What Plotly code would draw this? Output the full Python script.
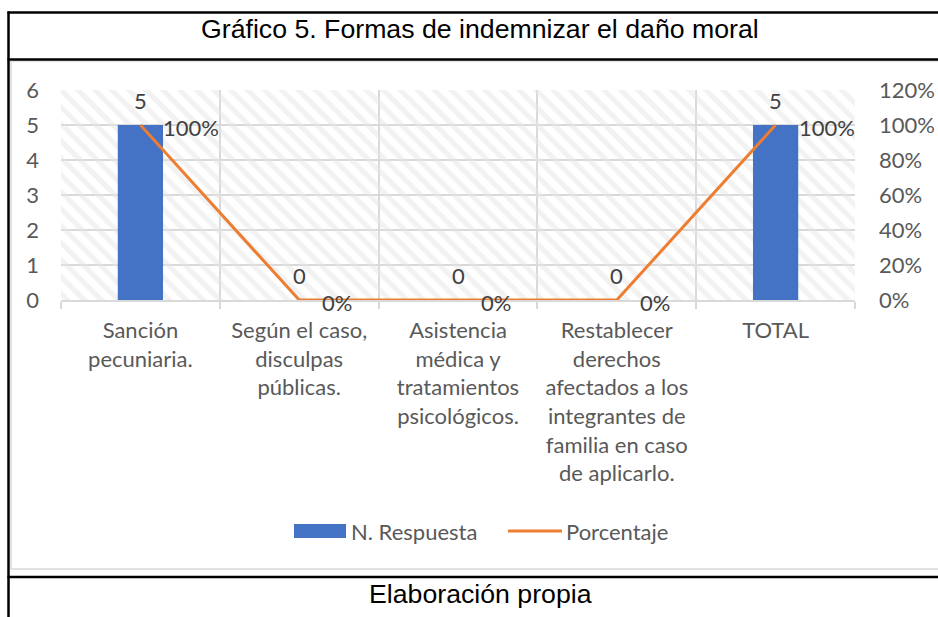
import plotly.graph_objects as go

# ---- data ----
categories = [
    "Sanción<br>pecuniaria.",
    "Según el caso,<br>disculpas<br>públicas.",
    "Asistencia<br>médica y<br>tratamientos<br>psicológicos.",
    "Restablecer<br>derechos<br>afectados a los<br>integrantes de<br>familia en caso<br>de aplicarlo.",
    "TOTAL",
]
respuestas = [5, 0, 0, 0, 5]
porcentaje = [1.0, 0.0, 0.0, 0.0, 1.0]
series_names = ["N. Respuesta", "Porcentaje"]
title_text = "Gráfico 5. Formas de indemnizar el daño moral"
footer_text = "Elaboración propia"

# ---- geometry (pixels) ----
FW, FH = 938, 617
L, R, T, B = 61, 855, 90, 300
W, H = R - L, B - T


def px(x):
    return (x - L) / W


def py(y):
    return (B - y) / H


FONT = "Lato"
FS = 22
GRAY = "#595959"
GRID = "#d9d9d9"
BLUE = "#4472C4"
ORANGE = "#ED7D31"

fig = go.Figure()

# background hatch (decorative plot-area fill)
fig.add_trace(go.Bar(
    x=[0.5], y=[1], width=[1], base=[0],
    xaxis="x", yaxis="y",
    marker=dict(color="rgba(0,0,0,0)", line=dict(width=0),
                pattern=dict(shape="\\", fgcolor="#e6e6e6", bgcolor="rgba(0,0,0,0)",
                             size=12, solidity=0.45, fillmode="overlay")),
    hoverinfo="skip", showlegend=False,
))

fig.add_trace(go.Bar(
    x=categories, y=respuestas, name=series_names[0],
    xaxis="x2", yaxis="y2", width=0.285,
    marker=dict(color=BLUE, line=dict(width=0)),
    showlegend=False,
))
fig.add_trace(go.Scatter(
    x=categories, y=porcentaje, name=series_names[1],
    xaxis="x2", yaxis="y3", mode="lines",
    line=dict(color=ORANGE, width=3),
    showlegend=False,
))

annotations = []
for c, v in zip(categories, respuestas):
    annotations.append(dict(x=c, y=v, xref="x2", yref="y2", text=str(v),
                            showarrow=False, yanchor="middle", yshift=25,
                            font=dict(family=FONT, size=FS, color="#404040")))
for c, v in zip(categories, porcentaje):
    annotations.append(dict(x=c, y=v, xref="x2", yref="y3", text=f"{v:.0%}",
                            showarrow=False, xanchor="left", yanchor="middle",
                            xshift=21, yshift=-2,
                            font=dict(family=FONT, size=FS, color="#404040")))

annotations.append(dict(x=px(480), y=py(29), xref="paper", yref="paper",
                        text=title_text, showarrow=False, xanchor="center", yanchor="middle",
                        font=dict(family="Liberation Sans, Arial", size=26.7, color="black")))
annotations.append(dict(x=px(480), y=py(594), xref="paper", yref="paper",
                        text=footer_text, showarrow=False, xanchor="center", yanchor="middle",
                        font=dict(family="Liberation Sans, Arial", size=26.7, color="black")))
# legend text
annotations.append(dict(x=px(349), y=py(531), xref="paper", yref="paper",
                        text=series_names[0], showarrow=False, xanchor="left", yanchor="middle",
                        font=dict(family=FONT, size=FS, color=GRAY)))
annotations.append(dict(x=px(564), y=py(531), xref="paper", yref="paper",
                        text=series_names[1], showarrow=False, xanchor="left", yanchor="middle",
                        font=dict(family=FONT, size=FS, color=GRAY)))


def hline(y, x0, x1, color, width):
    return dict(type="line", xref="paper", yref="paper", x0=px(x0), x1=px(x1),
                y0=py(y), y1=py(y), line=dict(color=color, width=width))


shapes = [
    # chart area light border (top, bottom, left)
    hline(61, 10.5, 938, GRID, 1.5),
    hline(569, 10.5, 938, GRID, 1.5),
    dict(type="line", xref="paper", yref="paper", x0=px(11), x1=px(11), y0=py(61), y1=py(569),
         line=dict(color=GRID, width=1.5)),
    # table frame
    dict(type="line", xref="paper", yref="paper", x0=px(8.5), x1=px(8.5), y0=py(11.5), y1=py(617),
         line=dict(color="black", width=2.5)),
    hline(12.5, 7.5, 938, "black", 2.5),
    hline(59.5, 7.5, 938, "black", 2.5),
    hline(577, 7.5, 938, "black", 2.5),
    # legend symbols
    dict(type="rect", xref="paper", yref="paper", x0=px(294), x1=px(346), y0=py(524), y1=py(538),
         line=dict(width=0), fillcolor=BLUE),
    hline(531, 508, 562, ORANGE, 3),
]

tickfont = dict(family=FONT, size=FS, color=GRAY)

fig.update_layout(
    width=FW, height=FH,
    margin=dict(l=L, r=FW - R, t=T, b=FH - B, pad=0, autoexpand=False),
    paper_bgcolor="white", plot_bgcolor="white",
    barmode="overlay",
    showlegend=False,
    xaxis=dict(range=[0, 1], visible=False, fixedrange=True, automargin=False),
    yaxis=dict(range=[0, 1], visible=False, fixedrange=True, automargin=False),
    xaxis2=dict(type="category", overlaying="x", anchor="y2", range=[-0.5, 4.5],
                tickson="boundaries", showgrid=True, gridcolor=GRID, gridwidth=1.5,
                ticks="outside", ticklen=7, tickcolor=GRID, tickwidth=1.5,
                showline=True, linecolor=GRID, linewidth=1.5, automargin=False,
                tickfont=tickfont, ticklabelstandoff=10),
    yaxis2=dict(overlaying="y", anchor="x2", side="left", range=[0, 6], dtick=1,
                showgrid=True, gridcolor=GRID, gridwidth=1.5, zeroline=False, automargin=False,
                tickfont=tickfont, ticks="", ticklabelstandoff=21),
    yaxis3=dict(overlaying="y", anchor="x2", side="right", range=[0, 1.2], dtick=0.2,
                tickformat=".0%", showgrid=False, zeroline=False, automargin=False,
                tickfont=tickfont, ticks="", ticklabelstandoff=23),
    annotations=annotations,
    shapes=shapes,
)

fig.write_html("out.html", config={"displayModeBar": False},
               post_script="document.body.style.margin='0';")
